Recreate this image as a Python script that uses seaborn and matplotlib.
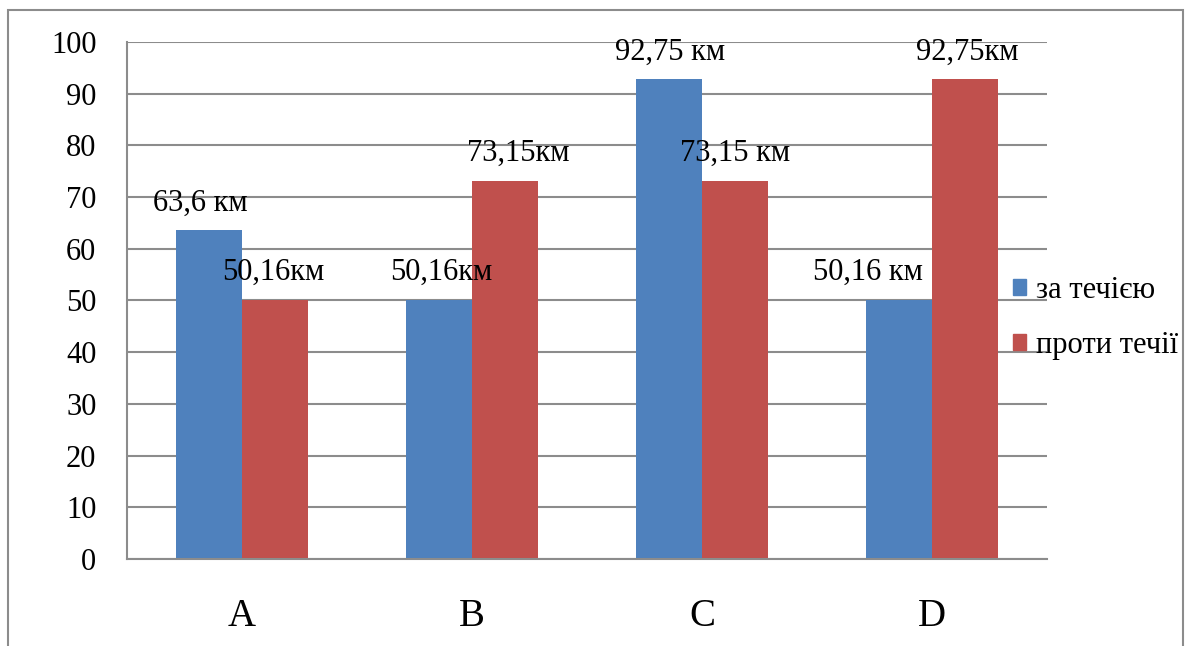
import numpy as np
import pandas as pd
import matplotlib
matplotlib.use("Agg")
import matplotlib.pyplot as plt
import matplotlib.patches as mpatches
import seaborn as sns

# Data
points = ["A", "B", "C", "D"]
series = ["за течією", "проти течії"]
downstream = [63.6, 50.16, 92.75, 50.16]
upstream = [50.16, 73.15, 73.15, 92.75]
downstream_labels = ["63,6 км", "50,16км", "92,75 км", "50,16 км"]
upstream_labels = ["50,16км", "73,15км", "73,15 км", "92,75км"]

df = pd.DataFrame({
    "point": points * 2,
    "value": downstream + upstream,
    "series": [series[0]] * 4 + [series[1]] * 4,
})

blue = "#4F81BD"
red = "#C0504D"
grid_gray = "#8C8C8C"

sns.set_style("white")
plt.rcParams["font.family"] = ["Liberation Serif", "DejaVu Serif"]
plt.rcParams["text.color"] = "black"
plt.rcParams["xtick.color"] = "black"
plt.rcParams["ytick.color"] = "black"

fig = plt.figure(figsize=(11.89, 6.46), dpi=100)
ax = fig.add_axes([0.1068, 0.1347, 0.7738, 0.8003])

sns.barplot(data=df, x="point", y="value", hue="series", palette=[blue, red],
            width=0.574, saturation=1, linewidth=0, ax=ax, legend=False)

ax.set_ylim(0, 100)
ax.set_yticks(np.arange(0, 101, 10))
ax.set_xlabel("")
ax.set_ylabel("")
ax.yaxis.grid(True, color=grid_gray, linewidth=1.5)
ax.set_axisbelow(True)
for side in ["top", "right"]:
    ax.spines[side].set_visible(False)
for side in ["left", "bottom"]:
    ax.spines[side].set_color(grid_gray)
    ax.spines[side].set_linewidth(1.5)
ax.tick_params(axis="y", labelsize=22, length=0, pad=22)
ax.tick_params(axis="x", labelsize=28, length=0, pad=28)

# value labels (horizontal nudges in pixels, as in the reference)
label_sets = [downstream_labels, upstream_labels]
nudges = [[-9, 2, 1, -31], [-2, 13, 0, 2]]
for container, texts, dx in zip(ax.containers, label_sets, nudges):
    for bar, txt, d in zip(container, texts, dx):
        ax.annotate(txt, xy=(bar.get_x() + bar.get_width() / 2, bar.get_height()),
                    xytext=(d * 0.72, 19.5), textcoords="offset points",
                    ha="center", va="center", fontsize=22, annotation_clip=False)

handles = [mpatches.Patch(color=blue), mpatches.Patch(color=red)]
fig.legend(handles, series, loc="center left", bbox_to_anchor=(0.8415, 0.508),
           frameon=False, fontsize=22, handlelength=0.42, handleheight=0.42,
           handletextpad=0.35, labelspacing=0.85, borderaxespad=0)

# outer chart border
fig.patches.append(mpatches.Rectangle((8 / 1189, -0.05), 1175 / 1189, 0.05 + 1 - 10 / 646,
                                      transform=fig.transFigure, fill=False,
                                      edgecolor=grid_gray, linewidth=1.5))

fig.savefig("out.png", dpi=100)
